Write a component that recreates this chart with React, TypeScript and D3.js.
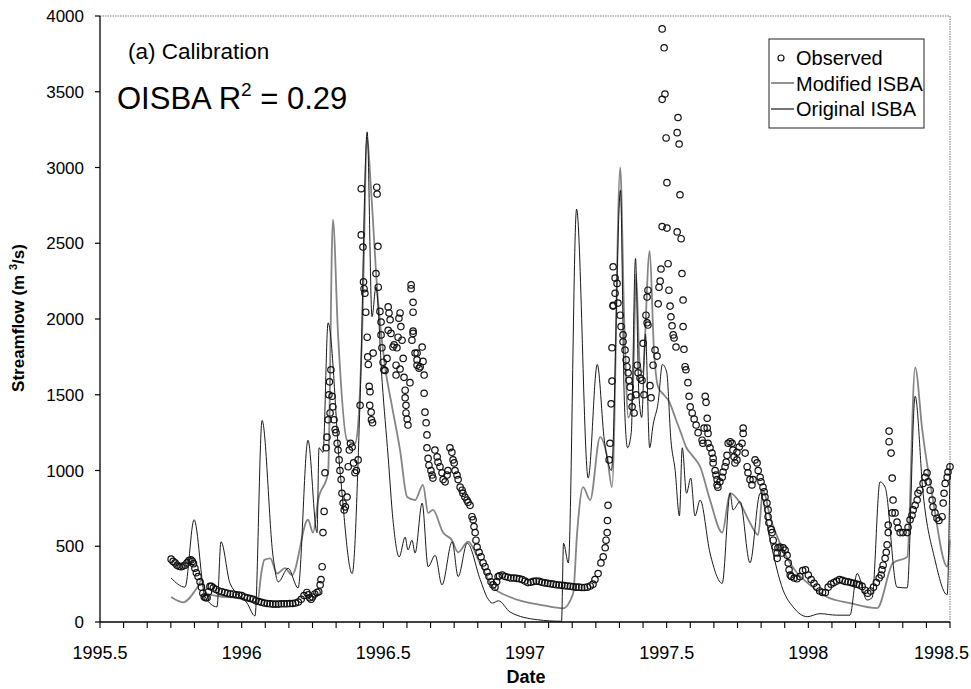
import React from 'react';
import * as d3 from 'd3';

type P = [number, number];

const yTickValues = [0, 500, 1000, 1500, 2000, 2500, 3000, 3500, 4000];
const xTickValues = [1995.5, 1996, 1996.5, 1997, 1997.5, 1998, 1998.5];
const xTickLabels = ['1995.5', '1996', '1996.5', '1997', '1997.5', '1998', '1998.5'];
const legendLabels = ['Observed', 'Modified ISBA', 'Original ISBA'];

const originalISBA: P[] = [
  [1995.751, 290], [1995.800, 230], [1995.832, 675], [1995.871, 165], [1995.913, 100], [1995.927, 530],
  [1995.959, 255], [1996.019, 125], [1996.047, 40], [1996.072, 1330], [1996.111, 430], [1996.129, 265],
  [1996.164, 355], [1996.199, 225], [1996.234, 1200], [1996.266, 590], [1996.273, 1150], [1996.287, 1120],
  [1996.305, 1975], [1996.347, 1000], [1996.390, 320], [1996.418, 1470], [1996.443, 3235], [1996.460, 2015],
  [1996.474, 2210], [1996.496, 1580], [1996.517, 1090], [1996.534, 675], [1996.556, 430], [1996.577, 560],
  [1996.587, 475], [1996.601, 540], [1996.612, 455], [1996.637, 785], [1996.658, 365], [1996.683, 440],
  [1996.707, 245], [1996.743, 530], [1996.764, 300], [1996.796, 520], [1996.842, 280], [1996.867, 160],
  [1996.885, 125], [1996.906, 140], [1996.948, 65], [1997.044, 15], [1997.129, 5], [1997.136, 520],
  [1997.153, 390], [1997.182, 2725], [1997.223, 950], [1997.255, 1700], [1997.280, 1200], [1997.305, 1000],
  [1997.337, 2850], [1997.350, 1500], [1997.362, 1150], [1997.375, 1250], [1997.390, 2400], [1997.402, 1500],
  [1997.412, 1350], [1997.425, 1900], [1997.440, 1150], [1997.452, 1300], [1997.470, 1450], [1997.485, 1700],
  [1997.500, 1650], [1997.515, 1200], [1997.530, 1000], [1997.545, 700], [1997.555, 1150], [1997.570, 850],
  [1997.585, 950], [1997.600, 700], [1997.618, 805], [1997.653, 455], [1997.696, 255], [1997.724, 850],
  [1997.734, 740], [1997.759, 795], [1997.794, 390], [1997.830, 850], [1997.865, 540], [1997.911, 210],
  [1997.946, 100], [1997.996, 35], [1998.041, 55], [1998.100, 45], [1998.147, 45], [1998.172, 320],
  [1998.207, 145], [1998.225, 160], [1998.253, 925], [1998.271, 890], [1998.313, 230], [1998.349, 225],
  [1998.377, 1490], [1998.405, 850], [1998.447, 410], [1998.490, 180], [1998.500, 1050],
];

const modifiedISBA: P[] = [
  [1995.751, 165], [1995.793, 130], [1995.842, 225], [1995.860, 280], [1995.874, 190], [1995.920, 170],
  [1995.980, 160], [1996.030, 140], [1996.055, 130], [1996.070, 330], [1996.080, 410], [1996.101, 420],
  [1996.125, 320], [1996.153, 355], [1996.178, 310], [1996.234, 675], [1996.252, 590], [1996.270, 805],
  [1996.305, 985], [1996.322, 2655], [1996.340, 1905], [1996.372, 1200], [1996.400, 1180], [1996.411, 1300],
  [1996.425, 1900], [1996.443, 3200], [1996.455, 2900], [1996.481, 2125], [1996.506, 1685], [1996.531, 1420],
  [1996.559, 1135], [1996.584, 825], [1996.612, 805], [1996.640, 905], [1996.658, 720], [1996.675, 740],
  [1996.711, 590], [1996.742, 540], [1996.764, 460], [1996.799, 530], [1996.841, 390], [1996.887, 230],
  [1996.947, 165], [1997.064, 110], [1997.134, 90], [1997.170, 190], [1997.184, 590], [1997.205, 890],
  [1997.230, 805], [1997.265, 1220], [1997.290, 1090], [1997.307, 890], [1997.336, 3000], [1997.350, 2000],
  [1997.365, 1350], [1997.380, 1500], [1997.392, 2300], [1997.405, 1700], [1997.415, 1650], [1997.440, 2450],
  [1997.455, 1800], [1997.470, 1550], [1997.490, 1500], [1997.510, 1450], [1997.530, 1350], [1997.550, 1250],
  [1997.570, 1150], [1997.590, 1100], [1997.618, 1025], [1997.653, 805], [1997.696, 590], [1997.724, 850],
  [1997.759, 785], [1997.794, 655], [1997.823, 575], [1997.840, 870], [1997.865, 695], [1997.911, 475],
  [1997.960, 325], [1997.996, 260], [1998.066, 165], [1998.147, 125], [1998.243, 92], [1998.299, 390],
  [1998.349, 430], [1998.377, 1680], [1998.402, 1270], [1998.440, 805], [1998.490, 365], [1998.500, 540],
];

const observed: P[] = [
  [1995.751, 415], [1995.758, 400], [1995.765, 390], [1995.772, 375], [1995.779, 368], [1995.786, 365],
  [1995.793, 370], [1995.800, 375], [1995.807, 390], [1995.814, 405], [1995.821, 410], [1995.826, 400],
  [1995.830, 385], [1995.835, 355], [1995.840, 325], [1995.846, 300], [1995.853, 265], [1995.858, 230],
  [1995.863, 190], [1995.868, 165], [1995.873, 160], [1995.878, 160], [1995.883, 200], [1995.888, 235],
  [1995.893, 235], [1995.900, 225], [1995.910, 215], [1995.920, 205], [1995.930, 200], [1995.940, 195],
  [1995.950, 190], [1995.960, 185], [1995.970, 185], [1995.980, 180], [1995.990, 178], [1996.000, 175],
  [1996.010, 165], [1996.020, 160], [1996.030, 155], [1996.040, 150], [1996.050, 140], [1996.060, 135],
  [1996.070, 130], [1996.080, 125], [1996.090, 122], [1996.100, 120], [1996.110, 118], [1996.120, 118],
  [1996.130, 118], [1996.140, 120], [1996.150, 120], [1996.160, 120], [1996.170, 122], [1996.180, 122],
  [1996.190, 125], [1996.200, 132], [1996.210, 150], [1996.220, 175], [1996.230, 195], [1996.235, 180],
  [1996.240, 160], [1996.245, 150], [1996.250, 165], [1996.258, 185], [1996.266, 195], [1996.272, 200],
  [1996.277, 245], [1996.280, 280], [1996.284, 365], [1996.287, 590], [1996.291, 730], [1996.294, 985],
  [1996.298, 1150], [1996.301, 1220], [1996.305, 1335], [1996.308, 1500], [1996.310, 1585], [1996.312, 1380],
  [1996.315, 1665], [1996.319, 1490], [1996.322, 1420], [1996.326, 1335], [1996.330, 1270], [1996.333, 1250],
  [1996.337, 1180], [1996.340, 1135], [1996.344, 1070], [1996.347, 1000], [1996.351, 940], [1996.354, 850],
  [1996.358, 785], [1996.362, 740], [1996.366, 760], [1996.372, 825], [1996.376, 1025], [1996.380, 1135],
  [1996.384, 1180], [1996.390, 1155], [1996.395, 1050], [1996.400, 985], [1996.405, 1000], [1996.411, 1070],
  [1996.418, 1430], [1996.422, 2860], [1996.422, 2555], [1996.428, 2475], [1996.430, 2245], [1996.432, 2200],
  [1996.435, 2170], [1996.438, 2045], [1996.443, 1880], [1996.445, 1750], [1996.447, 1700], [1996.450, 1555],
  [1996.453, 1520], [1996.452, 1430], [1996.457, 1385], [1996.458, 1335], [1996.462, 1315], [1996.464, 1775],
  [1996.474, 2300], [1996.477, 2870], [1996.478, 2825], [1996.481, 2480], [1996.482, 2210], [1996.488, 2050],
  [1996.492, 1980], [1996.492, 1895], [1996.495, 1810], [1996.499, 1715], [1996.502, 1665], [1996.506, 1660],
  [1996.513, 1740], [1996.517, 2080], [1996.520, 2040], [1996.524, 1995], [1996.517, 1925], [1996.527, 1905],
  [1996.534, 1815], [1996.538, 1830], [1996.548, 1810], [1996.559, 2040], [1996.555, 2005], [1996.562, 1950],
  [1996.552, 1880], [1996.566, 1860], [1996.570, 1740], [1996.545, 1695], [1996.545, 1630], [1996.559, 1670],
  [1996.573, 1615], [1996.577, 1530], [1996.577, 1480], [1996.580, 1430], [1996.580, 1380], [1996.584, 1340],
  [1996.587, 1300], [1996.594, 1580], [1996.601, 1860], [1996.605, 1905], [1996.605, 1920], [1996.598, 2225],
  [1996.598, 2200], [1996.605, 2110], [1996.605, 2045], [1996.612, 1775], [1996.619, 1775], [1996.619, 1730],
  [1996.619, 1695], [1996.626, 1675], [1996.630, 1685], [1996.637, 1815], [1996.640, 1720], [1996.644, 1630],
  [1996.644, 1510], [1996.647, 1385], [1996.651, 1315], [1996.654, 1235], [1996.654, 1150], [1996.658, 1080],
  [1996.661, 1035], [1996.668, 1000], [1996.672, 970], [1996.675, 950], [1996.682, 1135], [1996.690, 1090],
  [1996.693, 1055], [1996.700, 1025], [1996.707, 985], [1996.711, 940], [1996.718, 925], [1996.725, 970],
  [1996.728, 1000], [1996.735, 1150], [1996.742, 1120], [1996.746, 1070], [1996.750, 1050], [1996.753, 1000],
  [1996.760, 970], [1996.764, 940], [1996.771, 890], [1996.778, 870], [1996.781, 850], [1996.788, 825],
  [1996.795, 805], [1996.799, 790], [1996.806, 770], [1996.813, 695], [1996.817, 675], [1996.820, 630],
  [1996.824, 590], [1996.827, 540], [1996.831, 495], [1996.838, 460], [1996.845, 430], [1996.852, 390],
  [1996.859, 365], [1996.866, 330], [1996.873, 300], [1996.880, 265], [1996.887, 245], [1996.894, 230],
  [1996.900, 265], [1996.905, 300], [1996.910, 305], [1996.920, 310], [1996.930, 300], [1996.940, 295],
  [1996.950, 290], [1996.960, 290], [1996.970, 288], [1996.980, 285], [1996.990, 280], [1997.000, 270],
  [1997.010, 260], [1997.020, 262], [1997.030, 268], [1997.040, 270], [1997.050, 268], [1997.060, 262],
  [1997.070, 258], [1997.080, 255], [1997.090, 252], [1997.100, 250], [1997.110, 246], [1997.120, 244],
  [1997.130, 242], [1997.140, 240], [1997.150, 238], [1997.160, 236], [1997.170, 233], [1997.180, 230],
  [1997.190, 230], [1997.200, 228], [1997.210, 228], [1997.220, 230], [1997.230, 238], [1997.240, 250],
  [1997.247, 280], [1997.258, 320], [1997.268, 390], [1997.276, 430], [1997.283, 490], [1997.286, 540],
  [1997.290, 590], [1997.291, 670], [1997.293, 770], [1997.297, 1070], [1997.300, 1180], [1997.304, 1440],
  [1997.307, 1590], [1997.307, 1810], [1997.311, 2090], [1997.311, 2345], [1997.318, 2270], [1997.325, 2235],
  [1997.318, 2170], [1997.328, 2105], [1997.311, 2085], [1997.336, 2025], [1997.339, 1950], [1997.346, 1895],
  [1997.346, 1850], [1997.353, 1795], [1997.357, 1730], [1997.360, 1685], [1997.364, 1645], [1997.367, 1595],
  [1997.371, 1550], [1997.374, 1485], [1997.378, 1420], [1997.385, 1380], [1997.392, 1500], [1997.396, 1695],
  [1997.399, 1645], [1997.406, 1610], [1997.413, 1595], [1997.417, 1840], [1997.420, 1500], [1997.427, 2025],
  [1997.431, 1975], [1997.434, 1960], [1997.431, 2145], [1997.434, 2190], [1997.441, 1560], [1997.445, 1480],
  [1997.452, 1695], [1997.459, 1795], [1997.466, 1755], [1997.484, 3915], [1997.491, 3790], [1997.494, 3485],
  [1997.484, 3450], [1997.540, 3330], [1997.537, 3230], [1997.544, 3155], [1997.498, 3195], [1997.501, 2900],
  [1997.547, 2820], [1997.484, 2610], [1997.501, 2600], [1997.537, 2575], [1997.551, 2530], [1997.480, 2330],
  [1997.505, 2365], [1997.554, 2300], [1997.477, 2250], [1997.473, 2210], [1997.508, 2190], [1997.558, 2125],
  [1997.470, 2100], [1997.512, 2085], [1997.515, 2015], [1997.558, 1950], [1997.519, 1955], [1997.523, 1895],
  [1997.526, 1875], [1997.533, 1815], [1997.561, 1800], [1997.565, 1685], [1997.568, 1665], [1997.575, 1580],
  [1997.579, 1490], [1997.583, 1420], [1997.590, 1380], [1997.597, 1340], [1997.604, 1300], [1997.611, 1250],
  [1997.636, 1490], [1997.639, 1450], [1997.643, 1345], [1997.632, 1280], [1997.643, 1280], [1997.646, 1245],
  [1997.625, 1200], [1997.628, 1180], [1997.646, 1180], [1997.653, 1150], [1997.660, 1115], [1997.664, 1080],
  [1997.664, 1050], [1997.671, 1000], [1997.674, 970], [1997.678, 940], [1997.678, 905], [1997.681, 890],
  [1997.688, 925], [1997.696, 955], [1997.699, 990], [1997.706, 1025], [1997.710, 1055], [1997.713, 1100],
  [1997.717, 1180], [1997.724, 1190], [1997.731, 1180], [1997.734, 1135], [1997.738, 1090], [1997.741, 1050],
  [1997.748, 1070], [1997.748, 1120], [1997.756, 1155], [1997.766, 1180], [1997.770, 1280], [1997.770, 1245],
  [1997.777, 1115], [1997.784, 1025], [1997.787, 985], [1997.794, 940], [1997.801, 905], [1997.805, 940],
  [1997.812, 1070], [1997.819, 1050], [1997.823, 1000], [1997.830, 955], [1997.833, 925], [1997.840, 890],
  [1997.844, 860], [1997.847, 825], [1997.854, 785], [1997.858, 740], [1997.858, 695], [1997.861, 655],
  [1997.869, 610], [1997.872, 590], [1997.876, 540], [1997.883, 495], [1997.890, 455], [1997.890, 420],
  [1997.893, 490], [1997.900, 495], [1997.907, 455], [1997.911, 490], [1997.918, 475], [1997.925, 440],
  [1997.929, 390], [1997.932, 345], [1997.936, 310], [1997.940, 300], [1997.950, 290], [1997.960, 285],
  [1997.970, 300], [1997.980, 340], [1997.990, 345], [1998.000, 310], [1998.010, 280], [1998.020, 255],
  [1998.030, 230], [1998.040, 205], [1998.050, 195], [1998.060, 195], [1998.070, 230], [1998.080, 250],
  [1998.090, 260], [1998.100, 270], [1998.110, 280], [1998.120, 275], [1998.130, 268], [1998.140, 265],
  [1998.150, 260], [1998.160, 255], [1998.170, 250], [1998.180, 245], [1998.190, 235], [1998.200, 210],
  [1998.210, 190], [1998.220, 205], [1998.230, 230], [1998.240, 260], [1998.250, 290], [1998.257, 310],
  [1998.260, 345], [1998.264, 375], [1998.271, 420], [1998.275, 460], [1998.278, 510], [1998.282, 590],
  [1998.282, 640], [1998.285, 1190], [1998.285, 1260], [1998.292, 1115], [1998.296, 950], [1998.296, 720],
  [1998.299, 805], [1998.306, 720], [1998.313, 660], [1998.317, 620], [1998.324, 590], [1998.334, 590],
  [1998.349, 590], [1998.352, 625], [1998.359, 675], [1998.366, 705], [1998.370, 740], [1998.377, 770],
  [1998.384, 805], [1998.387, 850], [1998.394, 870], [1998.405, 915], [1998.412, 955], [1998.419, 985],
  [1998.423, 925], [1998.430, 870], [1998.437, 805], [1998.440, 760], [1998.447, 720], [1998.454, 685],
  [1998.461, 670], [1998.472, 695], [1998.476, 785], [1998.479, 850], [1998.483, 915], [1998.490, 955],
  [1998.493, 990], [1998.500, 1025],
];

const FONT = '"Liberation Sans", Arial, Helvetica, sans-serif';

export default function App() {
  const x = d3.scaleLinear().domain([1995.5, 1998.5]).range([100, 950]);
  const y = d3.scaleLinear().domain([0, 4000]).range([622, 16]);
  const line = d3
    .line<P>()
    .x((d) => x(d[0]))
    .y((d) => y(d[1]))
    .curve(d3.curveMonotoneX);
  const minorTicks = d3.range(0, 37).map((i) => 1995.5 + i / 12);

  return (
    <svg
      width={971}
      height={689}
      style={{ position: 'absolute', left: 0, top: 0, background: '#fff' }}
      fontFamily={FONT}
    >
      <rect x={0} y={0} width={971} height={689} fill="#fff" />
      <path
        d={`M${x(1995.5)},${y(4000)}H${x(1998.5)}V${y(0)}`}
        fill="none"
        stroke="#777"
        strokeWidth={1}
        strokeDasharray="1.5 1"
      />

      <g>
        <path d={line(modifiedISBA) || ''} fill="none" stroke="#858585" strokeWidth={1.8} strokeLinejoin="round" />
        <path d={line(originalISBA) || ''} fill="none" stroke="#1a1a1a" strokeWidth={1} strokeLinejoin="round" />
        {observed.map((d, i) => (
          <circle key={i} cx={x(d[0])} cy={y(d[1])} r={3.2} fill="none" stroke="#111" strokeWidth={1.2} />
        ))}
      </g>

      <line x1={x(1995.5)} x2={x(1995.5)} y1={y(4000)} y2={y(0)} stroke="#000" strokeWidth={1.3} />
      <line x1={x(1995.5)} x2={x(1998.5)} y1={y(0)} y2={y(0)} stroke="#000" strokeWidth={1.3} />
      {yTickValues.map((v) => (
        <g key={v}>
          <line x1={x(1995.5) - 5} x2={x(1995.5)} y1={y(v)} y2={y(v)} stroke="#000" strokeWidth={1.2} />
          <text x={84} y={y(v) + 6} textAnchor="end" fontSize={17} fill="#000">{v}</text>
        </g>
      ))}
      {minorTicks.map((v, i) => (
        <line key={i} x1={x(v)} x2={x(v)} y1={y(0)} y2={y(0) + 6} stroke="#000" strokeWidth={1.1} />
      ))}
      {xTickValues.map((v, i) => {
        const last = i === xTickValues.length - 1;
        return (
          <text
            key={v}
            x={last ? 969 : x(v)}
            y={659}
            textAnchor={last ? 'end' : 'middle'}
            fontSize={18}
            fill="#000"
          >
            {xTickLabels[i]}
          </text>
        );
      })}

      <text x={526} y={683} textAnchor="middle" fontSize={18} fontWeight="bold">Date</text>
      <text transform="translate(24,318) rotate(-90)" textAnchor="middle" fontSize={17} fontWeight="bold">
        Streamflow (m <tspan fontSize={11} dy={-7}>3</tspan><tspan dy={7}>/s)</tspan>
      </text>

      <text x={128} y={59} fontSize={22.5}>(a) Calibration</text>
      <text x={117} y={109} fontSize={31}>
        OISBA R<tspan fontSize={19} dy={-13}>2</tspan><tspan dy={13}> = 0.29</tspan>
      </text>

      <rect x={769} y={39} width={155} height={89} fill="#fff" stroke="#222" strokeWidth={1} />
      <circle cx={781} cy={58} r={3} fill="none" stroke="#111" strokeWidth={1.2} />
      <line x1={771} x2={794} y1={83} y2={83} stroke="#858585" strokeWidth={1.8} />
      <line x1={771} x2={794} y1={109} y2={109} stroke="#1a1a1a" strokeWidth={1.2} />
      {legendLabels.map((t, i) => (
        <text key={t} x={796} y={65 + i * 25.5} fontSize={20} fill="#000">{t}</text>
      ))}
    </svg>
  );
}
